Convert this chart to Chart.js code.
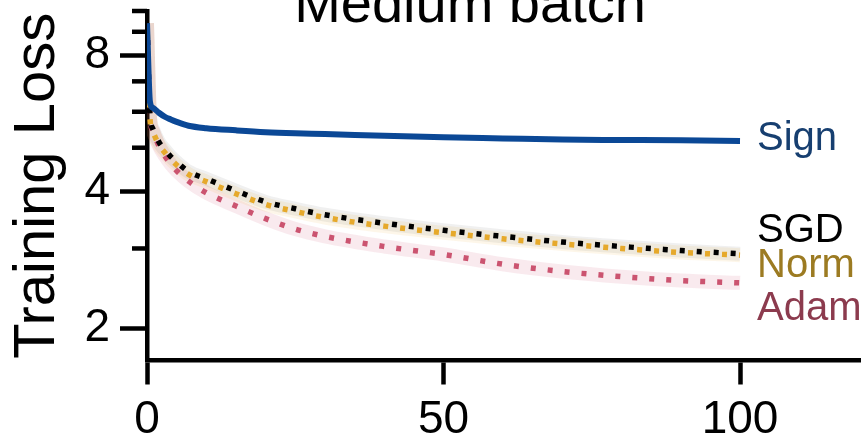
<!DOCTYPE html>
<html>
<head>
<meta charset="utf-8">
<script src="https://cdn.jsdelivr.net/npm/chart.js@4/dist/chart.umd.min.js"></script>
<style>
  html, body { margin: 0; padding: 0; background: #fff; overflow: hidden; }
  canvas { display: block; }
</style>
</head>
<body>
<canvas id="lossChart" width="861" height="439"></canvas>
<script>
// training steps (x) and loss per optimizer
const steps = [0, 0.5, 1, 2, 3, 4, 5, 7, 10, 15, 20, 25, 30, 40, 50, 60, 70, 80, 90, 100];
const signLoss = [9.4, 6.3, 6.12, 5.97, 5.85, 5.77, 5.70, 5.59, 5.52, 5.46, 5.41, 5.38, 5.36, 5.31, 5.27, 5.24, 5.21, 5.20, 5.19, 5.17];
const sgdLoss = [9.4, 5.9, 5.5, 5.15, 4.95, 4.78, 4.65, 4.43, 4.27, 4.02, 3.80, 3.67, 3.56, 3.41, 3.29, 3.19, 3.10, 3.03, 2.97, 2.92];
const normLoss = [9.4, 5.8, 5.42, 5.08, 4.88, 4.71, 4.58, 4.37, 4.21, 3.96, 3.75, 3.62, 3.51, 3.36, 3.25, 3.15, 3.07, 3.00, 2.94, 2.90];
const adamLoss = [9.4, 5.85, 5.45, 5.05, 4.8, 4.6, 4.45, 4.22, 3.98, 3.72, 3.49, 3.31, 3.19, 3.03, 2.91, 2.77, 2.67, 2.60, 2.55, 2.52];

const xTicks = [0, 50, 100];
const yMajorTicks = [2, 4, 8];
const yMinorTicks = [3, 5, 6, 7, 9, 10];

const FONT = '"Liberation Sans", Arial, Helvetica, sans-serif';

function pts(values) {
  return steps.map((s, i) => ({ x: s, y: values[i] }));
}

function dotted(label, values, color, offset) {
  return {
    label: label,
    data: pts(values),
    borderColor: color,
    borderWidth: 5.5,
    borderDash: [5, 12],
    borderDashOffset: offset,
    borderCapStyle: 'butt',
    pointRadius: 0,
    cubicInterpolationMode: 'monotone'
  };
}

function band(values, color) {
  return {
    label: '',
    data: pts(values),
    borderColor: color,
    borderWidth: 14,
    pointRadius: 0,
    cubicInterpolationMode: 'monotone'
  };
}

// minor ticks on the log axis are shorter than the major ones
const minorTicks = {
  id: 'minorTicks',
  afterDraw(chart) {
    const y = chart.scales.y;
    const left = chart.chartArea.left;
    const ctx = chart.ctx;
    ctx.save();
    ctx.strokeStyle = '#000';
    ctx.lineWidth = 4.5;
    yMinorTicks.forEach(v => {
      const py = y.getPixelForValue(v);
      ctx.beginPath();
      ctx.moveTo(left - 15, py);
      ctx.lineTo(left, py);
      ctx.stroke();
    });
    ctx.restore();
  }
};

const endLabels = {
  id: 'endLabels',
  afterDraw(chart) {
    const x = chart.scales.x;
    const y = chart.scales.y;
    const ctx = chart.ctx;
    const last = steps.length - 1;
    const px = x.getPixelForValue(steps[last]) + 17;
    const items = [
      ['Sign', signLoss[last], 9, '#173f70'],
      ['SGD', sgdLoss[last], -12, '#000000'],
      ['Norm', normLoss[last], 22, '#9c7b22'],
      ['Adam', adamLoss[last], 37, '#8c3b4e']
    ];
    ctx.save();
    ctx.font = '40px ' + FONT;
    ctx.textAlign = 'left';
    ctx.textBaseline = 'alphabetic';
    items.forEach(([name, v, dy, color]) => {
      ctx.fillStyle = color;
      ctx.fillText(name, px, y.getPixelForValue(v) + dy);
    });
    // panel title, mostly above the visible area
    ctx.fillStyle = '#000';
    ctx.font = '56px ' + FONT;
    ctx.textAlign = 'center';
    ctx.fillText('Medium batch', 470, 22);
    ctx.restore();
  }
};

new Chart(document.getElementById('lossChart'), {
  type: 'line',
  data: {
    datasets: [
      {
        label: 'Sign',
        data: pts(signLoss),
        borderColor: '#0b4896',
        borderWidth: 6,
        pointRadius: 0,
        cubicInterpolationMode: 'monotone'
      },
      dotted('SGD', sgdLoss, '#000000', 0),
      dotted('Norm', normLoss, '#e6a92b', 6),
      dotted('Adam', adamLoss, '#cb5470', 0),
      band(sgdLoss, 'rgba(0, 0, 0, 0.06)'),
      band(normLoss, 'rgba(232, 170, 42, 0.10)'),
      band(adamLoss, 'rgba(204, 84, 112, 0.12)')
    ]
  },
  options: {
    responsive: false,
    animation: false,
    devicePixelRatio: 1,
    layout: { padding: { top: 11, right: 0, bottom: 0, left: 0 } },
    plugins: {
      legend: { display: false },
      tooltip: { enabled: false }
    },
    scales: {
      x: {
        type: 'linear',
        min: 0,
        max: 120.4,
        afterBuildTicks: s => { s.ticks = xTicks.map(v => ({ value: v })); },
        afterFit: s => { s.height = 78.5; s.paddingLeft = 0; s.paddingRight = 0; },
        border: { color: '#000', width: 4.5 },
        grid: { drawOnChartArea: false, color: '#000', tickLength: 24, tickWidth: 4.5 },
        ticks: { color: '#000', font: { family: FONT, size: 46 }, padding: 8, maxRotation: 0 }
      },
      y: {
        type: 'logarithmic',
        min: 1.715,
        max: 10,
        afterBuildTicks: s => { s.ticks = yMajorTicks.map(v => ({ value: v })); },
        afterFit: s => { s.width = 147; s.paddingTop = 0; s.paddingBottom = 0; },
        border: { color: '#000', width: 4.5 },
        grid: { drawOnChartArea: false, color: '#000', tickLength: 27, tickWidth: 4.5 },
        ticks: {
          color: '#000',
          font: { family: FONT, size: 46 },
          padding: 10,
          callback: v => String(v)
        },
        title: {
          display: true,
          text: 'Training Loss',
          color: '#000',
          font: { family: FONT, size: 58 },
          padding: { top: 3, bottom: 0 }
        }
      }
    }
  },
  plugins: [minorTicks, endLabels]
});
</script>
</body>
</html>
